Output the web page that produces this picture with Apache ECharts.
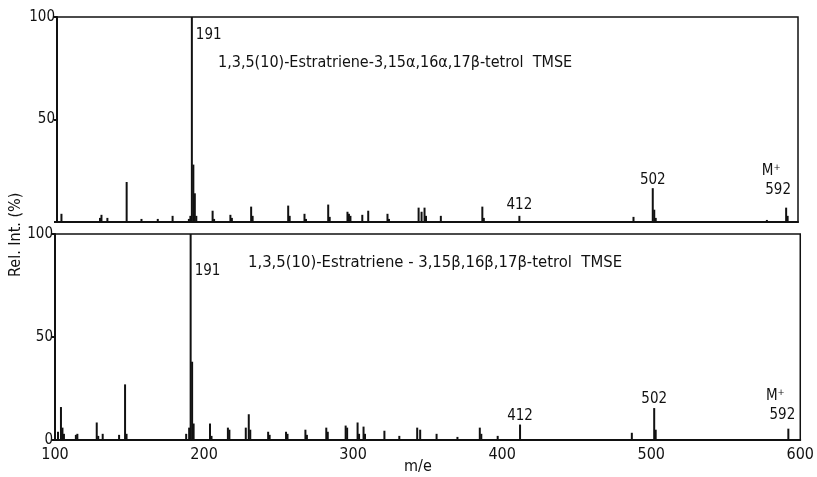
<!DOCTYPE html>
<html lang="en">

<head>
    <meta charset="UTF-8">
    <title>Mass spectra</title>
    <style>
        * {
            padding: 0;
            margin: 0;
            box-sizing: border-box;
        }

        html,
        body,
        .chart-container {
            width: 100%;
            height: 100%;
            background: #fff;
        }
    </style>
</head>

<body>
    <div id="chart-container" class="chart-container"></div>
</body>

</html>
<script src="https://cdn.jsdelivr.net/npm/echarts@6/dist/echarts.min.js"></script>

<script>
    // 上图：15α,16α
    const topMz = [103, 129, 130, 134, 147, 157, 168, 178, 189, 190, 191, 192, 193, 194, 205, 206, 217, 218, 231, 232,
        256, 257, 267, 268, 283, 284, 296, 297, 298, 306, 310, 323, 324, 344, 346, 348, 349, 359, 387, 388, 412, 489,
        502, 503, 504, 579, 592, 593]
    const topInt = [4, 2, 3.5, 2, 19.5, 1.5, 1.5, 3, 1.5, 3, 100, 28, 14, 3, 5.5, 1.5, 3.5, 2, 7.5, 3,
        8, 3, 4, 1.5, 8.5, 2.5, 5, 4, 3, 3.5, 5.5, 4, 1.5, 7, 5, 7, 3, 3, 7.5, 2, 3, 2.5,
        16.5, 6, 2, 1, 7, 3]

    // 下图：15β,16β
    const bottomMz = [102, 104, 105, 106, 114, 115, 128, 129, 132, 143, 147, 148, 188, 190, 191, 192, 193, 204, 205,
        216, 217, 228, 230, 231, 243, 244, 255, 256, 268, 269, 282, 283, 295, 296, 303, 304, 307, 308, 321, 331, 343,
        345, 356, 370, 385, 386, 397, 412, 487, 502, 503, 592]
    const bottomInt = [4, 16, 6, 3, 2.5, 3, 8.5, 2, 3, 2.5, 27, 3, 3, 6, 100, 38, 8, 8, 2,
        6, 5, 6, 12.5, 5, 4, 2.5, 4, 3, 5, 2.5, 6, 4, 7, 6, 8.5, 3, 6.5, 3, 4.5, 2, 6,
        5, 3, 1.5, 6, 3, 2, 7.5, 3.5, 15.5, 5, 5.5]

    const labelledMz = [191, 412, 502, 592]
    const xTicks = [100, 200, 300, 400, 500, 600]
    const yTicks = [0, 50, 100]
    const titles = [
        '1,3,5(10)-Estratriene-3,15α,16α,17β-tetrol  TMSE',
        '1,3,5(10)-Estratriene - 3,15β,16β,17β-tetrol  TMSE'
    ]

    const font = "'DejaVu Sans Condensed', 'DejaVu Sans', sans-serif"
    const ink = '#111'

    // 标注位置（样式，不属于数据）
    function peakLabel(mz, panel) {
        const base = {
            show: true,
            color: ink,
            fontFamily: font,
            fontSize: 15,
            formatter: p => p.value[0]
        }
        if (mz === 191) return Object.assign(base, { position: [5, panel === 0 ? 11 : 30] })
        if (mz === 412) return Object.assign(base, { position: 'top', distance: panel === 0 ? 3 : 1 })
        if (mz === 502) return Object.assign(base, { position: 'top', distance: 1 })
        if (mz === 592) return Object.assign(base, {
            position: 'top',
            distance: panel === 0 ? 8 : 4,
            offset: [panel === 0 ? -8 : -6, 0],
            formatter: p => '{m|M⁺}\n{n|' + p.value[0] + '}',
            rich: {
                m: { fontFamily: font, fontSize: 15, color: ink, padding: [0, 14, 0, 0], lineHeight: 19 },
                n: { fontFamily: font, fontSize: 15, color: ink, lineHeight: 19 }
            }
        })
        return { show: false }
    }

    function buildData(mzs, ints, panel) {
        return mzs.map((m, i) => {
            const item = { value: [m, ints[i]] }
            if (labelledMz.indexOf(m) !== -1) item.label = peakLabel(m, panel)
            return item
        })
    }

    var myChart = echarts.init(document.getElementById('chart-container'))

    const axisLine = { show: true, lineStyle: { color: ink, width: 2 } }

    var option = {
        backgroundColor: '#fff',
        animation: false,
        title: [{
            text: titles[0],
            left: 218,
            top: 55,
            padding: 0,
            textStyle: { fontFamily: font, fontSize: 16, fontWeight: 'normal', color: ink }
        }, {
            text: titles[1],
            left: 248,
            top: 254,
            padding: 0,
            textStyle: { fontFamily: font, fontSize: 16.5, fontWeight: 'normal', color: ink }
        }],
        grid: [{
            left: 57,
            right: 19,
            top: 17,
            height: 205,
            show: true,
            borderColor: ink,
            borderWidth: 1.5
        }, {
            left: 55,
            right: 14,
            top: 234,
            height: 206,
            show: true,
            borderColor: ink,
            borderWidth: 1.5
        }],
        xAxis: [0, 1].map(i => ({
            type: 'value',
            gridIndex: i,
            min: xTicks[0],
            max: xTicks[xTicks.length - 1],
            interval: 100,
            axisLine: axisLine,
            axisTick: { show: false },
            splitLine: { show: false },
            axisLabel: {
                show: i === 1,
                color: ink,
                fontFamily: font,
                fontSize: 16,
                margin: 7
            }
        })),
        yAxis: [0, 1].map(i => ({
            type: 'value',
            gridIndex: i,
            min: yTicks[0],
            max: yTicks[yTicks.length - 1],
            interval: 50,
            axisLine: axisLine,
            axisTick: { show: true, length: 3, lineStyle: { color: ink, width: 2 } },
            splitLine: { show: false },
            axisLabel: {
                color: ink,
                fontFamily: font,
                fontSize: 15,
                margin: 2,
                formatter: v => (i === 0 && v === 0) ? '' : v
            }
        })),
        graphic: [{
            type: 'text',
            x: 8,
            y: 277,
            rotation: Math.PI / 2,
            style: { text: 'Rel. Int. (%)', font: '16px ' + font, fill: ink }
        }, {
            type: 'text',
            left: 404,
            top: 459,
            style: { text: 'm/e', font: '16px ' + font, fill: ink }
        }],
        series: [{
            type: 'bar',
            xAxisIndex: 0,
            yAxisIndex: 0,
            barWidth: 2,
            itemStyle: { color: ink },
            data: buildData(topMz, topInt, 0)
        }, {
            type: 'bar',
            xAxisIndex: 1,
            yAxisIndex: 1,
            barWidth: 2,
            itemStyle: { color: ink },
            data: buildData(bottomMz, bottomInt, 1)
        }]
    }
    myChart.setOption(option)
</script>
